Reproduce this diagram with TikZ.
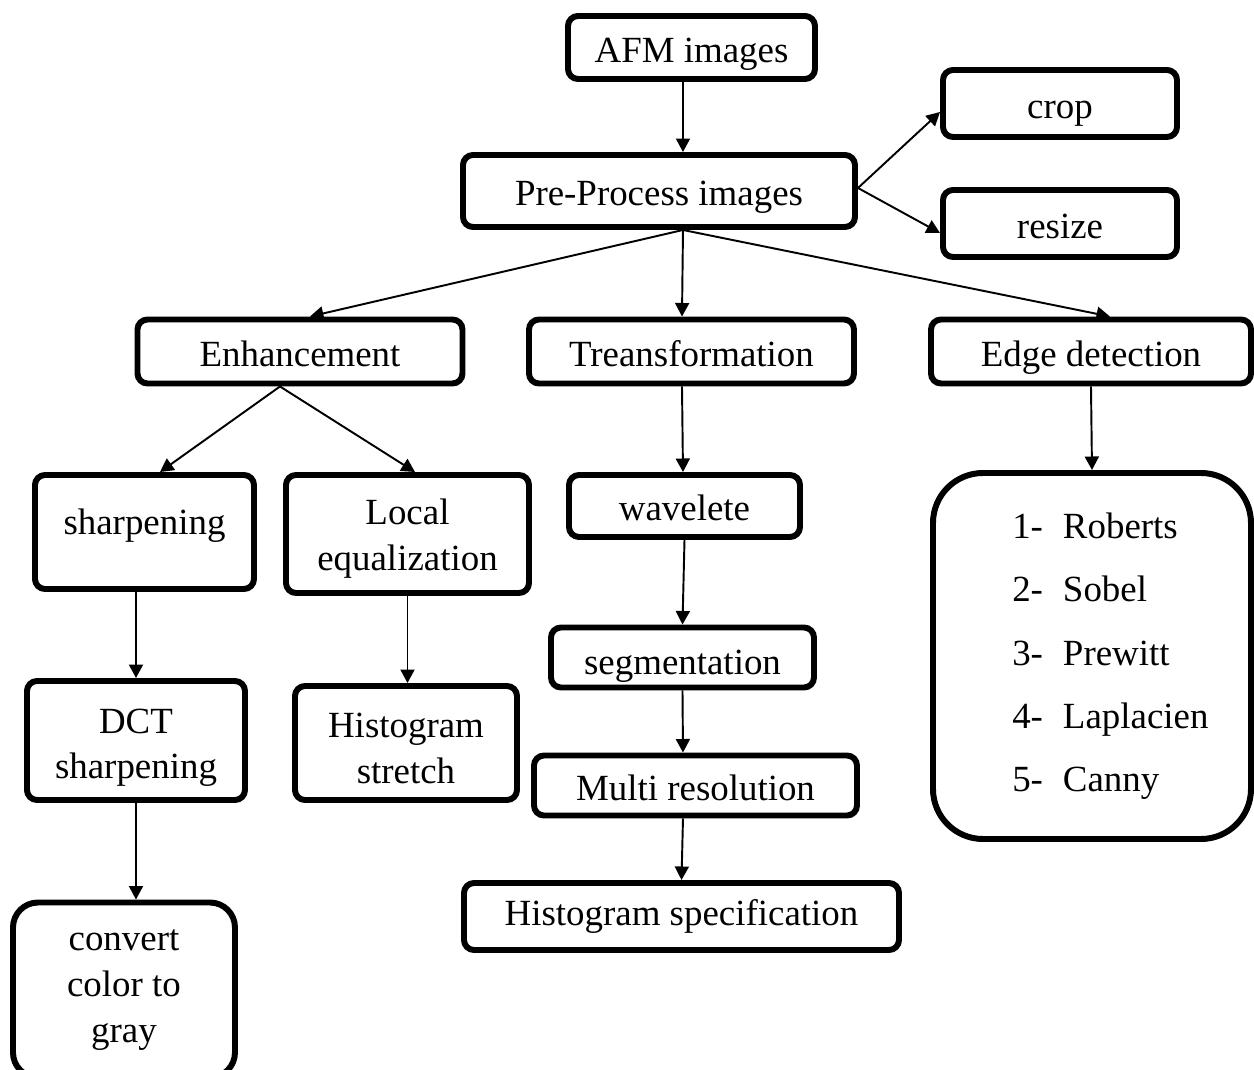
\documentclass[tikz,border=0pt]{standalone}
\usepackage{fontspec}
\setmainfont{Liberation Serif}
\usepackage{tikz}
\usetikzlibrary{arrows.meta}
\usetikzlibrary{positioning}
\tikzset{
    block/.style={
           rectangle,
           rounded corners=0.2cm,
           draw=black, line width=3.4pt,
           inner sep=2pt,
           text centered,
           align=center,
           font=\fontsize{21}{26}\selectfont,
           text=black
           },
    lowtext/.style={text height=17pt, text depth=0pt},
}

\begin{document}
\begin{tikzpicture}[->,>={Triangle[length=0.27cm,width=0.28cm]},line width=1.1pt]
\useasboundingbox (-13.83,0.95) rectangle (11.25,-20.45);

% Input
\node[block, lowtext, minimum width=4.94cm, minimum height=1.26cm] (AFM) {AFM images};

% Pre-processing
\node[block, lowtext, left of=AFM, node distance=0.65cm, yshift=-2.87cm, minimum width=7.84cm, minimum height=1.44cm] (PREPROCESS) {Pre-Process images};

\node[block, lowtext, right of=AFM, node distance=7.37cm, yshift=-1.12cm, minimum width=4.68cm, minimum height=1.34cm] (CROP) {crop};

\node[block, lowtext, right of=AFM, node distance=7.37cm, yshift=-3.52cm, minimum width=4.68cm, minimum height=1.34cm] (RESIZE) {resize};

% Branches
\node[block, lowtext, left of=AFM, node distance=7.83cm, yshift=-6.08cm, minimum width=6.5cm, minimum height=1.28cm] (ENHANCE) {Enhancement};

\node[block, lowtext, yshift=-6.08cm, minimum width=6.5cm, minimum height=1.28cm] (TRANSFORM) {Treansformation};

\node[block, lowtext, right of=AFM, node distance=7.99cm, yshift=-6.08cm, minimum width=6.4cm, minimum height=1.28cm] (EDGE) {Edge detection};

% Enhancement: sharpening side
\node[block, text height=10pt, text depth=7pt, left of=AFM, node distance=10.94cm, yshift=-9.69cm, minimum width=4.38cm, minimum height=2.28cm] (SHARP) {sharpening};

\node[block, left of=AFM, node distance=11.11cm, yshift=-13.86cm, minimum width=4.36cm, minimum height=2.38cm] (DCT) {\rule{0pt}{22pt}DCT\\sharpening};

\node[block, left of=AFM, node distance=11.35cm, yshift=-18.85cm, rounded corners=0.5cm, minimum width=4.44cm, minimum height=3.5cm] (GRAY) {convert\\color to\\gray};

% Enhancement: equalization side
\node[block, left of=AFM, node distance=5.68cm, yshift=-9.73cm, minimum width=4.86cm, minimum height=2.36cm] (LOCALEQ) {\rule{0pt}{20pt}Local\\equalization};

\node[block, left of=AFM, node distance=5.71cm, yshift=-13.91cm, minimum width=4.44cm, minimum height=2.28cm] (HISTSTRETCH) {\rule{0pt}{20pt}Histogram\\stretch};

% Transformation
\node[block, lowtext, left of=AFM, node distance=0.14cm, yshift=-9.17cm, minimum width=4.62cm, minimum height=1.24cm] (WAVELET) {wavelete};

\node[block, text height=19pt, text depth=0pt, left of=AFM, node distance=0.18cm, yshift=-12.2cm, minimum width=5.26cm, minimum height=1.2cm] (SEGMENT) {segmentation};

\node[block, lowtext, right of=AFM, node distance=0.08cm, yshift=-14.76cm, minimum width=6.46cm, minimum height=1.2cm] (MULTIRES) {Multi resolution};

\node[block, left of=AFM, node distance=0.2cm, yshift=-17.38cm, minimum width=8.7cm, minimum height=1.34cm] (HISTSPEC) {Histogram specification};

% Edge detection operators
\node[block, right of=AFM, node distance=8.01cm, yshift=-12.17cm, rounded corners=1cm, minimum width=6.36cm, minimum height=7.32cm] (EDGELIST) {%
    \begin{tabular}{@{\hspace{0.92cm}}l@{\hspace{0.4cm}}l@{}}
        1- & Roberts\\[10pt]
        2- & Sobel\\[10pt]
        3- & Prewitt\\[10pt]
        4- & Laplacien\\[10pt]
        5- & Canny
    \end{tabular}
};

\path ([xshift=-0.17cm]AFM.south) edge ([xshift=0.48cm]PREPROCESS.north)
([yshift=0.06cm]PREPROCESS.east) edge ([yshift=-0.17cm]CROP.west)
([yshift=0.06cm]PREPROCESS.east) edge ([yshift=-0.19cm]RESIZE.west)
([xshift=0.48cm]PREPROCESS.south) edge ([xshift=0.2cm]ENHANCE.north)
([xshift=0.48cm]PREPROCESS.south) edge ([xshift=-0.19cm]TRANSFORM.north)
([xshift=0.48cm]PREPROCESS.south) edge ([xshift=0.38cm]EDGE.north)
([xshift=-0.4cm]ENHANCE.south) edge ([xshift=0.31cm]SHARP.north)
([xshift=-0.4cm]ENHANCE.south) edge ([xshift=0.15cm]LOCALEQ.north)
([xshift=-0.17cm]SHARP.south) edge (DCT.north)
(DCT.south) edge ([xshift=0.24cm]GRAY.north)
(LOCALEQ.south) edge (LOCALEQ.south |- HISTSTRETCH.north)
([xshift=-0.19cm]TRANSFORM.south) edge ([xshift=-0.03cm]WAVELET.north)
(WAVELET.south) edge (SEGMENT.north)
(SEGMENT.south) edge ([xshift=-0.25cm]MULTIRES.north)
([xshift=-0.25cm]MULTIRES.south) edge (HISTSPEC.north)
(EDGE.south) edge (EDGELIST.north)
;

\end{tikzpicture}
\end{document}
